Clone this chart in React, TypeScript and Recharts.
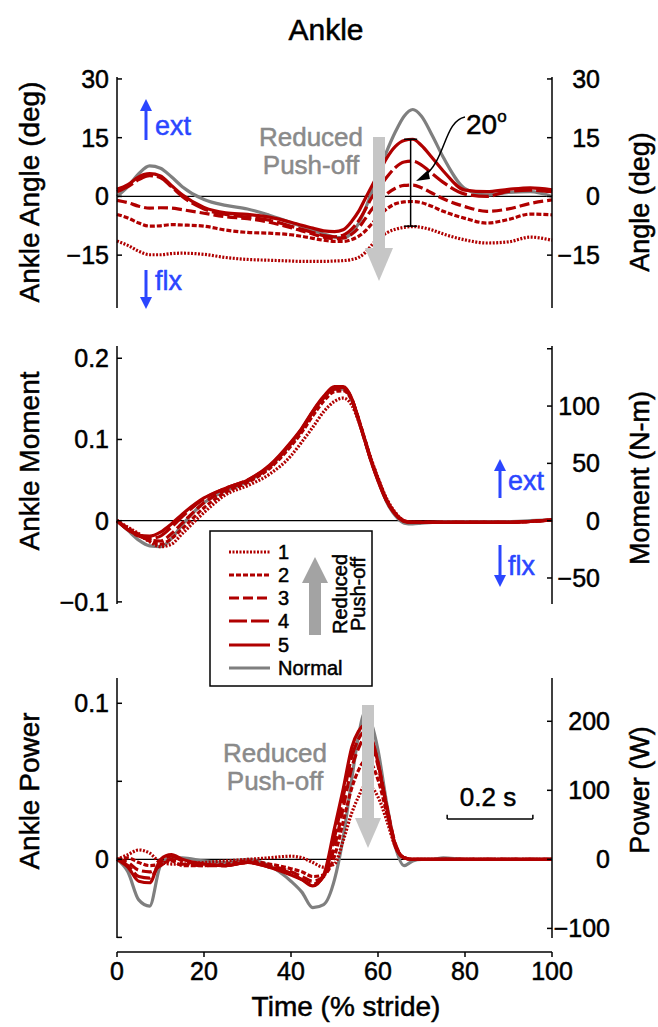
import React from "react";
import { LineChart, Line, XAxis, YAxis, ReferenceLine } from "recharts";

const FONT = "'Liberation Sans', Arial, Helvetica, sans-serif";
const RED = "#b00000";
const GRAY = "#7f7f7f";
const BLUE = "#2b46ff";
const ARROW_GRAY = "#c6c6c6";
const TEXT_GRAY = "#8a8a8a";
const INK = 0.5; // slight stroke to mimic the heavier Helvetica rendering

// % stride sample points
const stride = [0, 2.5, 5, 7.5, 10, 12.5, 15, 20, 25, 30, 35, 40, 42.5, 45, 47.5, 50, 52, 54, 55.5, 57, 58.5, 60, 62, 64, 66, 68, 70, 72.5, 75, 80, 85, 90, 95, 100];

// ankle angle (deg)
const angleNormal = [0, 2.5, 5.8, 7.8, 7.2, 5, 2.5, -0.8, -2.3, -3.2, -4.8, -6.7, -7.6, -8.6, -9.6, -10.4, -10.6, -9.3, -7, -3.4, 1, 5.8, 11.5, 16.5, 20.5, 22.2, 20.5, 15.5, 10, 2.0, 0.4, 1.0, 1.2, 0];
const angle5 = [1.8, 3, 5, 5.8, 5.2, 2.8, 0.4, -2.8, -4.2, -4.6, -5.3, -6.6, -7.4, -8.1, -8.8, -9.0, -8.5, -6.3, -3.9, -0.7, 2.5, 5.6, 9.8, 12.8, 14.3, 14.6, 13, 9.8, 6.5, 1.6, 1.2, 1.8, 2.2, 1.7];
const angle4 = [1.2, 2.5, 4.3, 5.3, 4.8, 2.5, 0, -3.2, -4.6, -5.3, -6.1, -7.6, -8.4, -9.2, -10, -10.3, -9.9, -8.3, -6.3, -3.5, -0.4, 1.8, 4.9, 7.4, 8.8, 9.0, 8, 5.8, 3.6, 0.6, 0, 1.3, 1.6, 1.2];
const angle3 = [-1, -1.6, -2.5, -3, -2.9, -3, -3.4, -4.3, -5.2, -5.7, -6.6, -8, -8.8, -9.6, -10.4, -10.8, -10.6, -9.6, -8.1, -5.8, -3.4, -1.6, 0.6, 2.1, 2.8, 2.9, 2.2, 0.8, -0.6, -2.6, -3.8, -3.2, -1.8, -0.9];
const angle2 = [-4.6, -5.5, -6.8, -7.6, -7.5, -7.2, -7.3, -7.6, -8.6, -9.2, -9.4, -9.8, -10.2, -10.7, -11.2, -11.5, -11.5, -11, -10.2, -8.9, -7.1, -5.3, -3.2, -1.9, -1.4, -1.3, -1.6, -2.6, -3.8, -5.6, -6.8, -5.9, -4.5, -4.7];
const angle1 = [-11.4, -12.5, -14, -14.9, -14.9, -14.6, -14.5, -14.8, -15.6, -16.1, -16.3, -16.5, -16.6, -16.6, -16.6, -16.5, -16.4, -16.1, -15.6, -14.4, -12.5, -10.8, -9.3, -8.4, -7.9, -7.7, -7.9, -8.6, -9.6, -11.1, -11.9, -11.6, -10.4, -11.2];

// ankle moment (normalized)
const momentNormal = [0, -0.012, -0.024, -0.031, -0.032, -0.022, -0.005, 0.022, 0.037, 0.048, 0.066, 0.095, 0.113, 0.134, 0.152, 0.162, 0.162, 0.148, 0.125, 0.099, 0.072, 0.050, 0.023, 0.006, -0.003, -0.004, -0.003, -0.002, -0.001, -0.001, -0.001, -0.001, 0, 0.001];
const moment5 = [0, -0.011, -0.018, -0.019, -0.014, -0.004, 0.008, 0.028, 0.040, 0.050, 0.068, 0.097, 0.114, 0.135, 0.153, 0.165, 0.165, 0.150, 0.124, 0.098, 0.072, 0.049, 0.024, 0.008, -0.001, -0.002, -0.002, -0.002, -0.002, -0.002, -0.002, -0.002, -0.001, 0.001];
const moment4 = [0, -0.011, -0.019, -0.022, -0.019, -0.008, 0.005, 0.027, 0.040, 0.050, 0.067, 0.096, 0.113, 0.134, 0.152, 0.163, 0.164, 0.150, 0.125, 0.098, 0.072, 0.050, 0.024, 0.008, -0.001, -0.002, -0.002, -0.002, -0.002, -0.002, -0.002, -0.002, -0.001, 0.001];
const moment3 = [0, -0.010, -0.018, -0.024, -0.025, -0.016, -0.003, 0.022, 0.038, 0.049, 0.066, 0.095, 0.112, 0.133, 0.151, 0.162, 0.163, 0.149, 0.126, 0.099, 0.073, 0.051, 0.025, 0.008, 0, -0.002, -0.002, -0.002, -0.002, -0.002, -0.002, -0.002, -0.001, 0.001];
const moment2 = [0, -0.009, -0.017, -0.025, -0.029, -0.022, -0.010, 0.016, 0.035, 0.047, 0.064, 0.092, 0.109, 0.129, 0.147, 0.159, 0.160, 0.148, 0.126, 0.100, 0.074, 0.052, 0.026, 0.009, 0, -0.002, -0.002, -0.002, -0.002, -0.002, -0.002, -0.002, -0.001, 0.001];
const moment1 = [0, -0.008, -0.016, -0.026, -0.032, -0.029, -0.016, 0.010, 0.032, 0.043, 0.057, 0.080, 0.097, 0.115, 0.134, 0.147, 0.151, 0.142, 0.123, 0.099, 0.075, 0.053, 0.027, 0.010, 0, -0.002, -0.002, -0.002, -0.002, -0.002, -0.002, -0.002, -0.001, 0.001];

// ankle power (normalized)
const powerNormal = [0, -0.008, -0.026, -0.030, -0.004, 0.001, 0.001, -0.001, -0.002, 0.000, -0.004, -0.014, -0.021, -0.031, -0.029, -0.013, 0.014, 0.052, 0.079, 0.094, 0.087, 0.070, 0.036, 0.008, -0.004, -0.001, 0, 0, 0.001, 0, 0, 0, 0, 0];
const power5 = [0, -0.005, -0.014, -0.015, 0.000, 0.003, 0.000, -0.003, -0.004, -0.002, -0.005, -0.010, -0.013, -0.017, -0.010, 0.020, 0.045, 0.072, 0.082, 0.086, 0.078, 0.062, 0.033, 0.008, 0.001, 0, 0, 0, 0, 0, 0, 0, 0, 0];
const power4 = [0, -0.004, -0.011, -0.012, -0.002, 0.002, -0.001, -0.003, -0.004, -0.002, -0.005, -0.009, -0.013, -0.016, -0.011, 0.014, 0.040, 0.066, 0.077, 0.082, 0.077, 0.062, 0.034, 0.009, 0.001, 0, 0, 0, 0, 0, 0, 0, 0, 0];
const power3 = [0, -0.002, -0.007, -0.008, -0.004, 0.000, -0.003, -0.004, -0.004, -0.002, -0.004, -0.008, -0.011, -0.014, -0.011, 0.008, 0.033, 0.059, 0.071, 0.078, 0.075, 0.060, 0.034, 0.010, 0.001, 0, 0, 0, 0, 0, 0, 0, 0, 0];
const power2 = [0, 0.001, -0.002, -0.004, -0.003, -0.001, -0.004, -0.004, -0.003, -0.001, -0.003, -0.006, -0.008, -0.011, -0.010, 0.002, 0.024, 0.046, 0.057, 0.063, 0.061, 0.051, 0.030, 0.009, 0.001, 0, 0, 0, 0, 0, 0, 0, 0, 0];
const power1 = [0, 0.003, 0.006, 0.004, -0.002, -0.003, -0.003, -0.002, -0.001, 0.000, 0.001, 0.002, 0.001, -0.002, -0.005, -0.003, 0.012, 0.030, 0.040, 0.047, 0.046, 0.040, 0.025, 0.008, 0.001, 0, 0, 0, 0, 0, 0, 0, 0, 0];

// axes
const ANGLE_TICKS = [-15, 0, 15, 30];
const ANGLE_LABELS = ["\u221215", "0", "15", "30"];
const MOMENT_TICKS = [-0.1, 0, 0.1, 0.2];
const MOMENT_LABELS = ["\u22120.1", "0", "0.1", "0.2"];
const MOMENT_NM_TICKS = [-50, 0, 50, 100, 150];
const MOMENT_NM_LABELS = ["\u221250", "0", "50", "100", ""];
const POWER_TICKS = [-0.05, 0, 0.05, 0.1];
const POWER_LABELS = ["", "0", "", "0.1"];
const POWER_W_TICKS = [-100, 0, 100, 200];
const POWER_W_LABELS = ["\u2212100", "0", "100", "200"];
const TIME_TICKS = [0, 20, 40, 60, 80, 100];

const SERIES = [
  { key: "c1", name: "1", color: RED, dash: "2 1.5" },
  { key: "c2", name: "2", color: RED, dash: "5 2" },
  { key: "c3", name: "3", color: RED, dash: "10 4" },
  { key: "c4", name: "4", color: RED, dash: "18 4" },
  { key: "c5", name: "5", color: RED, dash: undefined },
  { key: "normal", name: "Normal", color: GRAY, dash: undefined },
];
const DRAW_ORDER = [SERIES[5], ...SERIES.slice(0, 5)];

const buildRows = (sets: Record<string, number[]>) =>
  stride.map((x, i) => {
    const r: Record<string, number> = { x };
    for (const k in sets) r[k] = sets[k][i];
    return r;
  });

const angleRows = buildRows({ normal: angleNormal, c1: angle1, c2: angle2, c3: angle3, c4: angle4, c5: angle5 });
const momentRows = buildRows({ normal: momentNormal, c1: moment1, c2: moment2, c3: moment3, c4: moment4, c5: moment5 });
const powerRows = buildRows({ normal: powerNormal, c1: power1, c2: power2, c3: power3, c4: power4, c5: power5 });

const AX = { stroke: "#000", strokeWidth: 1.5 };

const yTick = (ticks: number[], labels: string[], dx: number) => (p: any) => {
  const i = ticks.findIndex((t) => Math.abs(t - p.payload.value) < 1e-9);
  const lab = i >= 0 ? labels[i] : "";
  if (!lab) return <g />;
  return (
    <text x={p.x + dx} y={p.y} dy="0.36em" textAnchor="end" fontSize={25} fontFamily={FONT} fill="#000" stroke="#000" strokeWidth={INK}>
      {lab}
    </text>
  );
};

const xTick = (p: any) => (
  <text x={p.x} y={p.y} dy="0.72em" textAnchor="middle" fontSize={25} fontFamily={FONT} fill="#000" stroke="#000" strokeWidth={INK}>
    {p.payload.value}
  </text>
);

function Panel(props: any) {
  const { top, height, mTop, mBottom, rows, lDomain, lTicks, lLabels, rDomain, rTicks, rLabels, rDx, children } = props;
  return (
    <div style={{ position: "absolute", left: 0, top }}>
      <LineChart width={658} height={height} data={rows} margin={{ top: mTop, right: 0, bottom: mBottom, left: 0 }}>
        <XAxis type="number" dataKey="x" domain={[0, 100]} hide />
        <YAxis
          yAxisId="l"
          width={117}
          type="number"
          domain={lDomain}
          ticks={lTicks}
          interval={0}
          allowDataOverflow
          tickSize={-5}
          tickMargin={13}
          axisLine={AX}
          tickLine={AX}
          tick={yTick(lTicks, lLabels, 0)}
        />
        <YAxis
          yAxisId="r"
          orientation="right"
          width={106}
          type="number"
          domain={rDomain}
          ticks={rTicks}
          interval={0}
          allowDataOverflow
          tickSize={-5}
          tickMargin={5}
          axisLine={AX}
          tickLine={AX}
          tick={yTick(rTicks, rLabels, rDx)}
        />
        <ReferenceLine yAxisId="l" y={0} stroke="#000" strokeWidth={1.2} />
        {DRAW_ORDER.map((s) => (
          <Line
            key={s.key}
            yAxisId="l"
            type="monotone"
            dataKey={s.key}
            stroke={s.color}
            strokeWidth={3.2}
            strokeDasharray={s.dash}
            dot={false}
            isAnimationActive={false}
          />
        ))}
        {children}
      </LineChart>
    </div>
  );
}

function UpArrow({ x, y1, y2, color }: any) {
  return (
    <g>
      <line x1={x} y1={y1} x2={x} y2={y2 + 10} stroke={color} strokeWidth={3} />
      <polygon points={`${x - 6},${y2 + 12} ${x + 6},${y2 + 12} ${x},${y2}`} fill={color} />
    </g>
  );
}

function DownArrow({ x, y1, y2, color }: any) {
  return (
    <g>
      <line x1={x} y1={y1} x2={x} y2={y2 - 10} stroke={color} strokeWidth={3} />
      <polygon points={`${x - 6},${y2 - 12} ${x + 6},${y2 - 12} ${x},${y2}`} fill={color} />
    </g>
  );
}

function BigArrow({ x, y1, y2, down, color, shaft = 12, head = 26, headLen = 32 }: any) {
  const hs = shaft / 2;
  const hh = head / 2;
  if (down) {
    const yb = y2 - headLen;
    return (
      <g fill={color}>
        <rect x={x - hs} y={y1} width={shaft} height={yb - y1} />
        <polygon points={`${x - hh},${yb} ${x + hh},${yb} ${x},${y2}`} />
      </g>
    );
  }
  const yb = y2 + headLen;
  return (
    <g fill={color}>
      <rect x={x - hs} y={yb} width={shaft} height={y1 - yb} />
      <polygon points={`${x - hh},${yb} ${x + hh},${yb} ${x},${y2}`} />
    </g>
  );
}

function T({ children, color = "#000", ...rest }: any) {
  return (
    <text fill={color} stroke={color} strokeWidth={INK} {...rest}>
      {children}
    </text>
  );
}

function Overlay() {
  const legendY = [552, 575, 598, 621, 645, 668];
  return (
    <svg width={658} height={1027} style={{ position: "absolute", left: 0, top: 0, pointerEvents: "none" }} fontFamily={FONT}>
      <T x={326} y={40} textAnchor="middle" fontSize={30}>Ankle</T>

      {/* axis titles */}
      <T transform="translate(39,192) rotate(-90)" textAnchor="middle" fontSize={28}>Ankle Angle (deg)</T>
      <T transform="translate(39,461) rotate(-90)" textAnchor="middle" fontSize={28}>Ankle Moment</T>
      <T transform="translate(39,791) rotate(-90)" textAnchor="middle" fontSize={28}>Ankle Power</T>
      <T transform="translate(649,202) rotate(-90)" textAnchor="middle" fontSize={27}>Angle (deg)</T>
      <T transform="translate(649,478) rotate(-90)" textAnchor="middle" fontSize={27}>Moment (N-m)</T>
      <T transform="translate(649,790) rotate(-90)" textAnchor="middle" fontSize={27}>Power (W)</T>
      <T x={346} y={1016} textAnchor="middle" fontSize={28}>Time (% stride)</T>

      {/* ext / flx markers */}
      <UpArrow x={146} y1={140} y2={99} color={BLUE} />
      <T x={155} y={135} fontSize={27} color={BLUE}>ext</T>
      <DownArrow x={146} y1={270} y2={309} color={BLUE} />
      <T x={155} y={290} fontSize={27} color={BLUE}>flx</T>
      <UpArrow x={500} y1={498} y2={459} color={BLUE} />
      <T x={508} y={490} fontSize={27} color={BLUE}>ext</T>
      <DownArrow x={500} y1={545} y2={587} color={BLUE} />
      <T x={508} y={575} fontSize={27} color={BLUE}>flx</T>

      {/* reduced push-off annotations */}
      <BigArrow x={379} y1={137} y2={281} down color={ARROW_GRAY} shaft={12} head={28} headLen={33} />
      <T x={311} y={146} textAnchor="middle" fontSize={26} color={TEXT_GRAY}>Reduced</T>
      <T x={311} y={174} textAnchor="middle" fontSize={26} color={TEXT_GRAY}>Push-off</T>
      <BigArrow x={368} y1={705} y2={848} down color={ARROW_GRAY} shaft={12} head={26} headLen={30} />
      <T x={275} y={762} textAnchor="middle" fontSize={26} color={TEXT_GRAY}>Reduced</T>
      <T x={275} y={790} textAnchor="middle" fontSize={26} color={TEXT_GRAY}>Push-off</T>

      {/* 20 deg callout */}
      <T x={466} y={134} fontSize={28}>
        20<tspan fontSize={17} dy={-12}>o</tspan>
      </T>
      <path d="M465,117 C444,121 446,160 424,176" fill="none" stroke="#000" strokeWidth={1.5} />
      <polygon points="416,181 428,170 430,179" fill="#000" />

      <T x={488} y={806} textAnchor="middle" fontSize={26}>0.2 s</T>

      {/* legend */}
      <rect x={210} y={531} width={162} height={155} fill="#fff" stroke="#000" strokeWidth={1.5} />
      {SERIES.map((s, i) => (
        <g key={s.key}>
          <line x1={229} x2={270} y1={legendY[i]} y2={legendY[i]} stroke={s.color} strokeWidth={3.2} strokeDasharray={s.dash} />
          <T x={278} y={legendY[i] + 7} fontSize={20}>{s.name}</T>
        </g>
      ))}
      <BigArrow x={315} y1={635} y2={557} color="#a3a3a3" shaft={12} head={26} headLen={26} />
      <T transform="translate(347,594) rotate(-90)" textAnchor="middle" fontSize={20}>Reduced</T>
      <T transform="translate(365,594) rotate(-90)" textAnchor="middle" fontSize={20}>Push-off</T>
    </svg>
  );
}

export default function App() {
  return (
    <div style={{ position: "absolute", left: 0, top: 0, width: 658, height: 1027, background: "#fff", fontFamily: FONT }}>
      <Panel
        top={0}
        height={320}
        mTop={77}
        mBottom={12}
        rows={angleRows}
        lDomain={[-28.5, 30.5]}
        lTicks={ANGLE_TICKS}
        lLabels={ANGLE_LABELS}
        rDomain={[-28.5, 30.5]}
        rTicks={ANGLE_TICKS}
        rLabels={ANGLE_LABELS}
        rDx={48}
      >
        <ReferenceLine yAxisId="l" segment={[{ x: 67.5, y: 14.6 }, { x: 67.5, y: -7.6 }]} stroke="#000" strokeWidth={1.5} ifOverflow="visible" />
        <ReferenceLine yAxisId="l" segment={[{ x: 66, y: 14.6 }, { x: 69, y: 14.6 }]} stroke="#000" strokeWidth={1.5} ifOverflow="visible" />
        <ReferenceLine yAxisId="l" segment={[{ x: 66, y: -7.6 }, { x: 69, y: -7.6 }]} stroke="#000" strokeWidth={1.5} ifOverflow="visible" />
      </Panel>
      <Panel
        top={330}
        height={290}
        mTop={16}
        mBottom={16}
        rows={momentRows}
        lDomain={[-0.1026, 0.2151]}
        lTicks={MOMENT_TICKS}
        lLabels={MOMENT_LABELS}
        rDomain={[-72.7, 152.4]}
        rTicks={MOMENT_NM_TICKS}
        rLabels={MOMENT_NM_LABELS}
        rDx={48}
      />
      <Panel
        top={660}
        height={290}
        mTop={18}
        mBottom={12}
        rows={powerRows}
        lDomain={[-0.0504, 0.1162]}
        lTicks={POWER_TICKS}
        lLabels={POWER_LABELS}
        rDomain={[-113.9, 262.7]}
        rTicks={POWER_W_TICKS}
        rLabels={POWER_W_LABELS}
        rDx={58}
      >
        <ReferenceLine yAxisId="l" segment={[{ x: 75.9, y: 0.0258 }, { x: 95.6, y: 0.0258 }]} stroke="#000" strokeWidth={1.5} ifOverflow="visible" />
        <ReferenceLine yAxisId="l" segment={[{ x: 75.9, y: 0.0258 }, { x: 75.9, y: 0.0285 }]} stroke="#000" strokeWidth={1.5} ifOverflow="visible" />
        <ReferenceLine yAxisId="l" segment={[{ x: 95.6, y: 0.0258 }, { x: 95.6, y: 0.0285 }]} stroke="#000" strokeWidth={1.5} ifOverflow="visible" />
      </Panel>
      <div style={{ position: "absolute", left: 0, top: 944 }}>
        <LineChart width={658} height={83} data={angleRows} margin={{ top: 0, right: 106, bottom: 0, left: 117 }}>
          <XAxis
            type="number"
            dataKey="x"
            domain={[0, 100]}
            ticks={TIME_TICKS}
            interval={0}
            height={75}
            tickSize={5}
            tickMargin={5}
            axisLine={AX}
            tickLine={AX}
            tick={xTick}
          />
          <YAxis hide />
        </LineChart>
      </div>
      <Overlay />
    </div>
  );
}
